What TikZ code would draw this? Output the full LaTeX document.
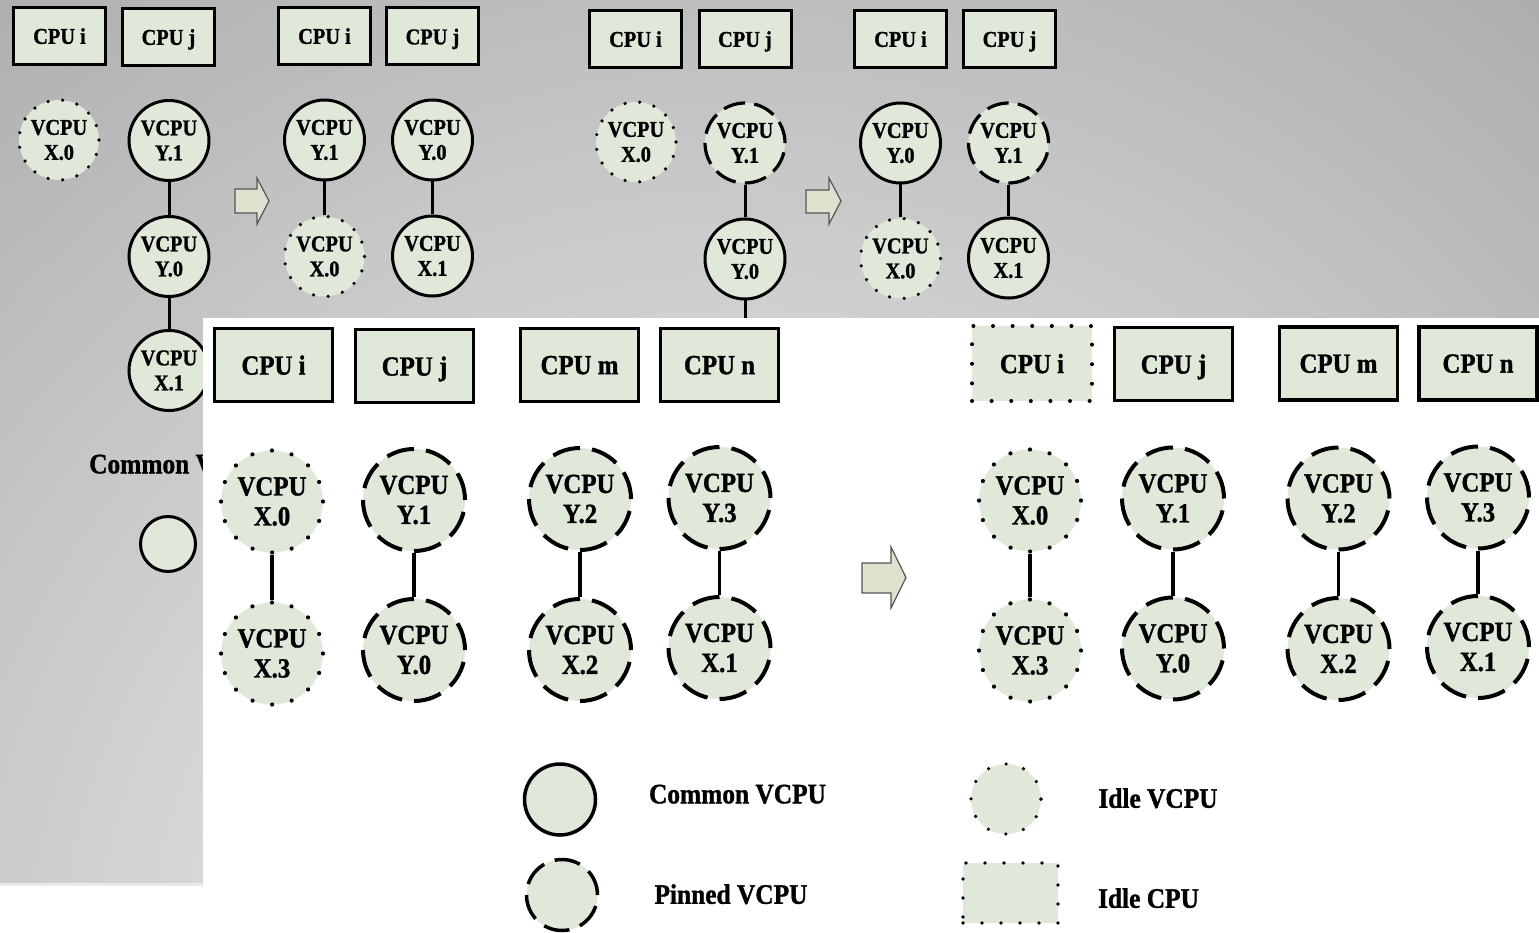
\documentclass[tikz,border=0pt]{standalone}
\usepackage{fontspec}
\setmainfont{Liberation Serif}[FakeStretch=0.9, BoldFeatures={FakeBold=1.2}]
\definecolor{nfill}{RGB}{224,232,218}
\definecolor{afill}{RGB}{221,225,206}
\definecolor{aline}{RGB}{85,85,85}
\definecolor{bgin}{RGB}{248,248,248}
\definecolor{bgout}{RGB}{172,172,172}
\definecolor{bgstrip}{RGB}{233,233,233}
\tikzset{
  sfont/.style={font=\fontsize{22.6}{25}\selectfont\bfseries},
  lfont/.style={font=\fontsize{27.6}{30}\selectfont\bfseries},
  legfont/.style={font=\fontsize{28.2}{30}\selectfont\bfseries},
  cpuS/.style={rectangle, draw, fill=nfill, line width=3pt, minimum width=92, minimum height=57, inner sep=0pt, sfont, text depth=0pt},
  cpuL/.style={rectangle, draw, fill=nfill, line width=3.5pt, minimum width=118, minimum height=73, inner sep=0pt, lfont, text depth=0pt},
  cpuIdle/.style={rectangle, draw, fill=nfill, line width=4pt, line cap=round, dash pattern=on 0pt off 19.6pt, minimum width=120, minimum height=75, inner sep=0pt, lfont, text depth=0pt},
  vS/.style={circle, fill=nfill, minimum size=80, inner sep=0pt, align=center, sfont},
  commonS/.style={vS, draw, line width=3pt},
  pinnedS/.style={vS, draw, line width=3.2pt, dash pattern=on 22pt off 9.4pt},
  idleS/.style={vS, draw, line width=3.6pt, line cap=round, dash pattern=on 0pt off 14.78pt},
  vL/.style={circle, fill=nfill, minimum size=102, inner sep=0pt, align=center, lfont},
  pinnedL/.style={vL, draw, line width=4pt, dash pattern=on 28pt off 12.05pt},
  idleL/.style={vL, draw, line width=4.2pt, line cap=round, dash pattern=on 0pt off 20.03pt},
  linkS/.style={line width=3pt},
  linkL/.style={line width=3.5pt},
  blockarrow/.style={fill=afill, draw=aline, line width=1.2pt, line join=miter},
  legtext/.style={legfont, inner sep=0pt, text depth=0pt},
}
\begin{document}
\begin{tikzpicture}[x=1pt,y=-1pt]
\useasboundingbox (0,0) rectangle (1539,933);
\fill[white] (0,0) rectangle (1539,933);
% grey background panel
\begin{scope}
  \clip (0,0) rectangle (1539,883);
  \shade[inner color=bgin, outer color=bgout] (750,1000) circle (1300pt);
\end{scope}
\fill[bgstrip] (0,883) rectangle (203,886);

% ---------- grey panel, group 1 ----------
\node[cpuS] (a1i) at (59.5,36) {CPU i};
\node[cpuS] (a1j) at (168.5,37) {CPU j};
\node[idleS] (a1x0) at (59,140) {VCPU\\X.0};
\node[commonS] (a1y1) at (169,140.5) {VCPU\\Y.1};
\node[commonS] (a1y0) at (169,256.5) {VCPU\\Y.0};
\node[commonS] (a1x1) at (169,370.5) {VCPU\\X.1};
\draw[linkS] (a1y1) -- (a1y0);
\draw[linkS] (a1y0) -- (a1x1);
\filldraw[blockarrow] (235,189) -- (257,189) -- (257,178) -- (269,201) -- (257,224) -- (257,213) -- (235,213) -- cycle;

% ---------- grey panel, group 2 ----------
\node[cpuS] (a2i) at (324.5,36) {CPU i};
\node[cpuS] (a2j) at (432.5,36.5) {CPU j};
\node[commonS] (a2y1) at (324.5,140) {VCPU\\Y.1};
\node[commonS] (a2y0) at (432.5,140) {VCPU\\Y.0};
\node[idleS] (a2x0) at (324.5,256.5) {VCPU\\X.0};
\node[commonS] (a2x1) at (432.5,256) {VCPU\\X.1};
\draw[linkS] (a2y1) -- (a2x0);
\draw[linkS] (a2y0) -- (a2x1);

% ---------- grey panel, group 3 ----------
\node[cpuS] (a3i) at (635.5,39) {CPU i};
\node[cpuS] (a3j) at (745,39) {CPU j};
\node[idleS] (a3x0) at (636,142) {VCPU\\X.0};
\node[pinnedS] (a3y1) at (745,143) {VCPU\\Y.1};
\node[commonS] (a3y0) at (745,259) {VCPU\\Y.0};
\coordinate (a3end) at (745,335);
\draw[linkS] (a3y1) -- (a3y0);
\draw[linkS] (a3y0) -- (a3end);
\filldraw[blockarrow] (806,190) -- (829,190) -- (829,178) -- (841,201) -- (829,224) -- (829,213) -- (806,213) -- cycle;

% ---------- grey panel, group 4 ----------
\node[cpuS] (a4i) at (900.5,39) {CPU i};
\node[cpuS] (a4j) at (1009.5,39) {CPU j};
\node[commonS] (a4y0) at (900.5,143) {VCPU\\Y.0};
\node[pinnedS] (a4y1) at (1008.5,143) {VCPU\\Y.1};
\node[idleS] (a4x0) at (900.5,258.5) {VCPU\\X.0};
\node[commonS] (a4x1) at (1008.5,258) {VCPU\\X.1};
\draw[linkS] (a4y0) -- (a4x0);
\draw[linkS] (a4y1) -- (a4x1);

% ---------- grey panel legend (partly hidden) ----------
\node[legtext, anchor=west] (glt) at (89,464) {Common VCPU};
\node[circle, draw, fill=nfill, line width=3pt, minimum size=55, inner sep=0pt] (glc) at (168,544) {};

% ---------- white panel ----------
\fill[white] (203,318) rectangle (1539,933);

% left group
\node[cpuL] (b1i) at (273.5,365) {CPU i};
\node[cpuL] (b1j) at (414.5,366) {CPU j};
\node[cpuL] (b1m) at (579.5,365) {CPU m};
\node[cpuL] (b1n) at (719.5,365) {CPU n};
\node[idleL] (b1x0) at (272,501.5) {VCPU\\X.0};
\node[idleL] (b1x3) at (272,653.5) {VCPU\\X.3};
\node[pinnedL] (b1y1) at (414,500) {VCPU\\Y.1};
\node[pinnedL] (b1y0) at (414,650) {VCPU\\Y.0};
\node[pinnedL] (b1y2) at (580,499) {VCPU\\Y.2};
\node[pinnedL] (b1x2) at (580,650) {VCPU\\X.2};
\node[pinnedL] (b1y3) at (719.5,498) {VCPU\\Y.3};
\node[pinnedL] (b1x1) at (719.5,648) {VCPU\\X.1};
\draw[linkL] (b1x0) -- (b1x3);
\draw[linkL] (b1y1) -- (b1y0);
\draw[linkL] (b1y2) -- (b1x2);
\draw[linkL] (b1y3) -- (b1x1);

\filldraw[blockarrow] (862,563) -- (891,563) -- (891,547) -- (906,577.5) -- (891,608) -- (891,593) -- (862,593) -- cycle;

% right group
\node[cpuIdle] (c1i) at (1032,363.5) {CPU i};
\node[cpuL] (c1j) at (1173.5,364) {CPU j};
\node[cpuL] (c1m) at (1338.5,363.5) {CPU m};
\node[cpuL] (c1n) at (1478,363.5) {CPU n};
\node[idleL] (c1x0) at (1030,500.5) {VCPU\\X.0};
\node[idleL] (c1x3) at (1030,650.5) {VCPU\\X.3};
\node[pinnedL] (c1y1) at (1173,498.5) {VCPU\\Y.1};
\node[pinnedL] (c1y0) at (1173,648.5) {VCPU\\Y.0};
\node[pinnedL] (c1y2) at (1338.5,498.5) {VCPU\\Y.2};
\node[pinnedL] (c1x2) at (1338.5,649) {VCPU\\X.2};
\node[pinnedL] (c1y3) at (1478,497.5) {VCPU\\Y.3};
\node[pinnedL] (c1x1) at (1478,647) {VCPU\\X.1};
\draw[linkL] (c1x0) -- (c1x3);
\draw[linkL] (c1y1) -- (c1y0);
\draw[linkL] (c1y2) -- (c1x2);
\draw[linkL] (c1y3) -- (c1x1);

% legend
\node[circle, draw, fill=nfill, line width=3.5pt, minimum size=71, inner sep=0pt] (lc) at (560,799.5) {};
\node[legtext] (lct) at (737.5,794) {Common VCPU};
\node[circle, draw, fill=nfill, line width=3.5pt, minimum size=71, inner sep=0pt, dash pattern=on 26pt off 11.17pt] (lp) at (562,895) {};
\node[legtext] (lpt) at (731,894) {Pinned VCPU};
\node[circle, draw, fill=nfill, line width=3.6pt, line cap=round, dash pattern=on 0pt off 18.3pt, minimum size=70, inner sep=0pt] (li) at (1006,799) {};
\node[legtext] (lit) at (1158,798) {Idle VCPU};
\node[rectangle, draw, fill=nfill, line width=3.6pt, line cap=round, dash pattern=on 0pt off 19pt, minimum width=95, minimum height=60, inner sep=0pt] (lr) at (1010.5,893) {};
\node[legtext] (lrt) at (1148.5,898) {Idle CPU};
\end{tikzpicture}
\end{document}
